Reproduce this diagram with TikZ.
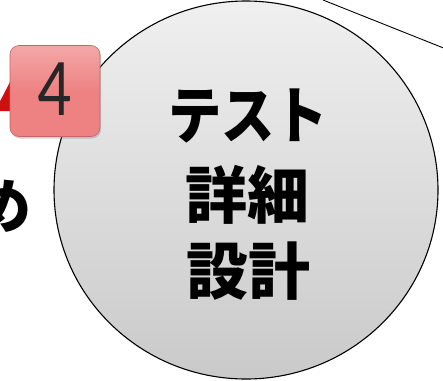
\documentclass[tikz,border=0pt]{standalone}
\usepackage{fontspec}
\newfontfamily\cjk{Noto Sans CJK JP}
\newfontfamily\numfont{Carlito}
\usetikzlibrary{shadows}
\definecolor{boxred}{HTML}{EE8282}
\definecolor{boxedge}{HTML}{C86464}
\definecolor{arrowred}{HTML}{D01010}
\tikzset{
  bigtext/.style={font=\cjk\bfseries\fontsize{62}{62}\selectfont, inner sep=0pt},
  numbox/.style={draw=boxedge, line width=0.6pt, rounded corners=9pt, top color=boxred!70!white, bottom color=boxred, middle color=boxred, minimum width=90pt, minimum height=91pt, drop shadow={shadow xshift=1pt, shadow yshift=-2pt, opacity=0.35}},
}
\begin{document}
\begin{tikzpicture}[x=1pt,y=-1pt]
\useasboundingbox (0,0) rectangle (443,380);
\begin{scope}
\clip (0,0) rectangle (443,380);
% connector line at top right
\coordinate (l1) at (323,0);
\coordinate (l2) at (446,49);
\draw[line width=0.9pt] (l1) -- (l2);
% big circle
\shade[top color=gray!12, bottom color=gray!42, draw=black, line width=1.1pt] (246,190) ellipse [x radius=192, y radius=189];
\node[bigtext, xscale=0.86] (t1) at (248,116) {テスト};
\node[bigtext] (t2) at (247.5,194.5) {詳細};
\node[bigtext] (t3) at (248,271) {設計};
% red arrowhead
\fill[arrowred] (10,82) -- (10,111) -- (-5,111) -- cycle;
% number box
\node[numbox] (n4) at (55,91) {};
\node[font=\numfont\fontsize{82}{82}\selectfont, text=black!85, xscale=0.82, inner sep=0pt] (num) at ([yshift=2pt]n4.center) {4};
% partial character
\node[font=\cjk\bfseries\fontsize{60}{60}\selectfont, inner sep=0pt] (me) at (2,206) {め};
\end{scope}
\end{tikzpicture}
\end{document}
